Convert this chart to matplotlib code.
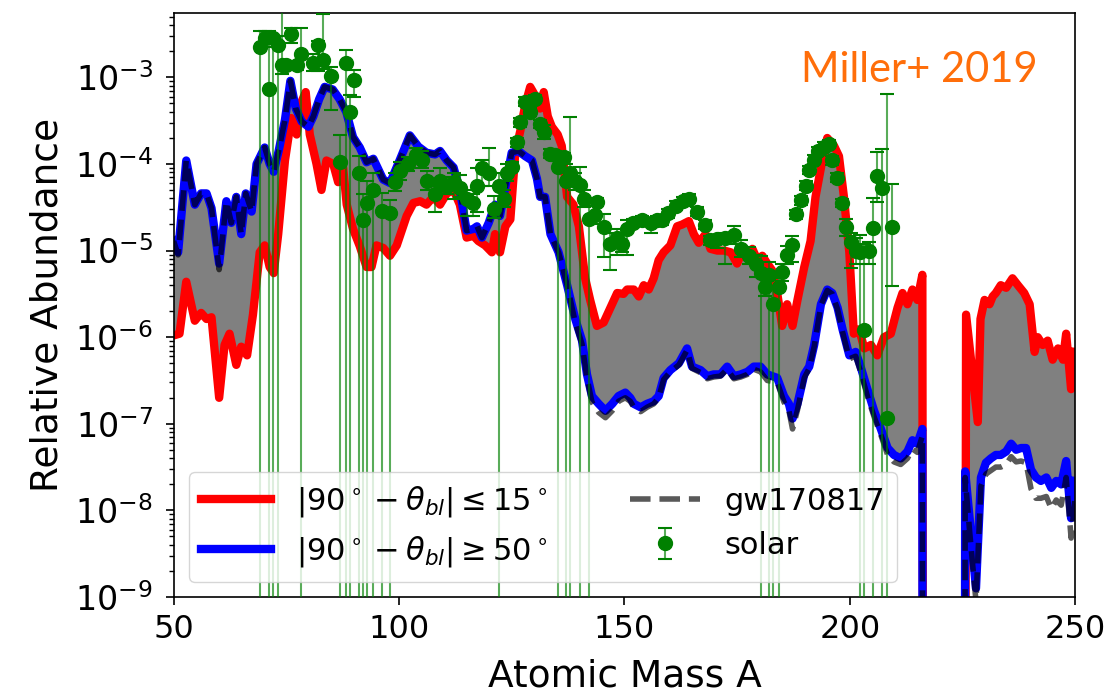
import numpy as np
import matplotlib.pyplot as plt

# abundances are stored as log10(Y); -30 marks the empty mass range (drops to zero)

# |90 - theta_bl| <= 15 deg
red_A = [50.0, 51.3, 52.8, 54.7, 56.1, 57.3, 58.4, 60.1, 61.3, 62.4,
         63.9, 65.0, 66.3, 67.6, 69.1, 70.2, 71.3, 72.2, 73.2, 74.7,
         76.1, 77.3, 78.4, 79.3, 80.2, 81.7, 82.8, 83.9, 85.4, 86.5,
         87.6, 88.4, 89.8, 91.3, 92.8, 93.9, 95.0, 96.5, 98.0, 99.5,
         101.7, 103.2, 104.7, 106.1, 107.6, 109.1, 110.6, 112.1, 113.5, 115.0,
         116.5, 117.6, 119.1, 120.6, 121.3, 122.4, 123.6, 124.7, 125.8, 126.9,
         128.0, 129.1, 130.2, 131.3, 132.1, 133.0, 133.9, 135.2, 136.1, 137.3,
         138.7, 139.9, 141.3, 142.4, 143.9, 145.4, 146.9, 148.4, 149.8, 150.6,
         152.1, 153.2, 154.3, 155.4, 156.5, 157.6, 158.7, 160.2, 161.7, 162.8,
         164.3, 165.4, 166.5, 168.0, 169.1, 170.6, 172.1, 173.6, 175.0, 176.1,
         177.3, 178.4, 179.5, 180.6, 181.7, 182.8, 183.9, 185.0, 186.1, 187.3,
         188.4, 189.9, 191.3, 192.4, 193.9, 195.0, 196.5, 197.6, 198.7, 199.9,
         200.9, 202.1, 203.2, 204.7, 206.1, 207.6, 209.1, 210.6, 211.7, 212.8,
         213.9, 215.0, 216.1, 216.7, 225.0, 225.8, 228.4, 229.0, 229.9, 231.0,
         231.7, 232.4, 233.5, 234.7, 236.1, 237.3, 238.7, 239.9, 241.0, 241.7,
         242.8, 243.9, 245.0, 246.2, 247.3, 248.0, 249.1, 250.0]
red_log = [-5.98, -5.96, -5.36, -5.81, -5.72, -5.79, -5.77, -6.70, -6.09, -5.96,
           -6.32, -6.11, -6.21, -5.74, -5.02, -4.94, -5.19, -5.26, -4.81, -3.96,
           -3.47, -3.66, -3.28, -3.17, -3.66, -4.00, -4.30, -3.96, -4.00, -4.21,
           -4.04, -4.47, -4.75, -4.95, -5.19, -5.19, -4.94, -4.97, -5.06, -4.94,
           -4.60, -4.45, -4.43, -4.47, -4.38, -4.47, -4.34, -4.30, -4.47, -4.85,
           -4.83, -4.89, -4.94, -5.02, -4.81, -5.02, -4.72, -4.64, -3.87, -3.62,
           -3.32, -3.11, -3.21, -3.36, -3.17, -3.45, -3.57, -3.66, -3.79, -4.38,
           -4.47, -4.72, -5.32, -5.57, -5.87, -5.83, -5.66, -5.49, -5.50, -5.45,
           -5.45, -5.53, -5.40, -5.45, -5.32, -5.11, -5.02, -4.94, -4.72, -4.70,
           -4.66, -4.81, -4.91, -4.81, -4.98, -5.00, -5.00, -5.02, -5.15, -5.02,
           -5.09, -4.98, -5.11, -5.06, -5.15, -5.23, -5.49, -5.87, -5.62, -5.87,
           -5.57, -5.19, -4.89, -4.38, -3.96, -3.70, -3.79, -3.91, -4.38, -5.02,
           -5.96, -5.91, -6.13, -6.09, -6.21, -6.00, -5.96, -5.66, -5.49, -5.62,
           -5.45, -5.57, -5.28, -30, -30, -5.74, -6.98, -5.79, -5.57, -5.62,
           -5.53, -5.49, -5.40, -5.43, -5.32, -5.40, -5.49, -5.62, -6.17, -6.00,
           -6.09, -6.04, -6.26, -6.13, -6.26, -5.96, -6.60, -6.17]

# |90 - theta_bl| >= 50 deg, and gw170817 on the same mass grid
blue_A = [50.0, 51.0, 52.8, 54.7, 56.1, 57.3, 58.4, 60.1, 61.7, 62.8,
          63.9, 65.0, 66.0, 67.3, 68.4, 70.2, 71.3, 72.2, 73.3, 74.7,
          75.9, 77.1, 78.4, 79.9, 81.0, 82.3, 83.5, 85.3, 86.8, 88.3,
          89.8, 91.3, 92.8, 94.3, 96.5, 98.0, 100.2, 102.4, 104.3, 106.1,
          108.0, 109.1, 110.6, 112.1, 113.5, 115.0, 116.5, 117.3, 118.4, 119.9,
          121.3, 122.4, 123.6, 125.0, 126.5, 128.0, 129.5, 130.6, 131.3, 132.4,
          133.6, 135.4, 137.3, 139.1, 140.6, 141.7, 142.8, 144.3, 145.8, 147.3,
          148.7, 150.2, 151.3, 152.1, 153.6, 155.0, 156.5, 157.6, 158.7, 160.2,
          162.1, 163.9, 165.0, 166.9, 168.4, 169.8, 171.3, 172.8, 174.3, 175.8,
          177.3, 178.7, 180.2, 181.7, 183.9, 185.4, 186.5, 187.3, 188.4, 189.9,
          191.0, 192.1, 193.6, 195.0, 196.1, 197.3, 198.4, 199.9, 201.3, 202.4,
          203.9, 205.4, 206.9, 208.4, 209.8, 211.3, 212.8, 213.9, 215.0, 216.1,
          216.4, 225.2, 225.6, 226.6, 228.0, 229.1, 230.2, 231.3, 232.4, 233.5,
          234.7, 235.8, 236.9, 238.0, 239.1, 240.2, 241.3, 242.4, 243.6, 244.7,
          245.8, 246.9, 248.0, 249.1, 250.0]
blue_log = [-4.89, -5.02, -3.96, -4.47, -4.34, -4.34, -4.51, -5.15, -4.43, -4.68,
            -4.38, -4.81, -4.34, -4.55, -4.00, -3.81, -4.00, -4.09, -3.85, -3.49,
            -3.04, -3.36, -3.51, -3.57, -3.45, -3.25, -3.11, -3.14, -3.25, -3.40,
            -3.69, -3.81, -3.98, -3.94, -4.18, -4.22, -3.95, -3.67, -3.80, -3.87,
            -3.89, -3.85, -3.96, -4.04, -4.30, -4.77, -4.75, -4.72, -4.85, -4.68,
            -4.47, -4.60, -4.26, -3.87, -3.85, -3.91, -3.96, -4.17, -4.38, -4.38,
            -4.81, -5.02, -5.40, -5.79, -6.04, -6.43, -6.68, -6.77, -6.85, -6.77,
            -6.68, -6.64, -6.70, -6.77, -6.81, -6.77, -6.74, -6.68, -6.47, -6.38,
            -6.30, -6.13, -6.34, -6.38, -6.45, -6.43, -6.43, -6.34, -6.45, -6.43,
            -6.40, -6.34, -6.34, -6.43, -6.47, -6.68, -6.77, -6.94, -6.77, -6.43,
            -6.34, -6.09, -5.62, -5.45, -5.49, -5.66, -5.91, -6.21, -6.17, -6.34,
            -6.60, -6.85, -7.06, -7.28, -7.36, -7.40, -7.32, -7.19, -7.23, -7.06,
            -30, -30, -7.55, -8.10, -8.90, -7.62, -7.45, -7.40, -7.36, -7.36,
            -7.32, -7.23, -7.30, -7.28, -7.28, -7.53, -7.62, -7.66, -7.62, -7.74,
            -7.66, -7.70, -7.43, -8.09, -7.66]
gw_log = [-4.89, -5.05, -3.96, -4.47, -4.34, -4.34, -4.51, -5.22, -4.43, -4.68,
          -4.38, -4.81, -4.34, -4.55, -4.00, -3.81, -4.00, -4.09, -3.85, -3.49,
          -3.04, -3.36, -3.51, -3.57, -3.45, -3.25, -3.11, -3.14, -3.25, -3.40,
          -3.69, -3.81, -3.98, -3.94, -4.18, -4.22, -3.95, -3.67, -3.80, -3.87,
          -3.89, -3.85, -3.96, -4.04, -4.30, -4.77, -4.75, -4.72, -4.85, -4.68,
          -4.47, -4.60, -4.26, -3.87, -3.85, -3.91, -3.96, -4.17, -4.38, -4.38,
          -4.81, -5.02, -5.40, -5.83, -6.08, -6.47, -6.75, -6.87, -6.93, -6.85,
          -6.74, -6.70, -6.74, -6.81, -6.86, -6.81, -6.77, -6.70, -6.49, -6.40,
          -6.32, -6.15, -6.36, -6.41, -6.48, -6.46, -6.45, -6.37, -6.48, -6.46,
          -6.43, -6.37, -6.40, -6.50, -6.52, -6.75, -6.85, -7.06, -6.84, -6.47,
          -6.36, -6.11, -5.63, -5.46, -5.50, -5.68, -5.94, -6.25, -6.22, -6.40,
          -6.68, -6.92, -7.13, -7.36, -7.44, -7.47, -7.40, -7.29, -7.33, -7.14,
          -30, -30, -7.62, -8.25, -9.05, -7.72, -7.58, -7.54, -7.50, -7.50,
          -7.47, -7.38, -7.44, -7.43, -7.45, -7.75, -7.86, -7.86, -7.84, -7.98,
          -7.88, -7.94, -7.62, -8.32, -7.85]

# solar r-process residuals: log10 value, upper / lower error in dex (None -> down to zero)
solar_A = [69.1, 70.2, 71.1, 72.1, 73.2, 74.1, 75.0, 76.0, 77.3, 78.2,
           81.0, 82.1, 83.2, 85.0, 87.0, 88.2, 89.1, 90.1, 91.1, 92.1,
           93.0, 94.2, 96.2, 98.1, 99.1, 100.3, 102.1, 103.7, 105.0, 106.1,
           108.0, 109.1, 110.6, 112.1, 113.5, 115.0, 116.5, 117.3, 118.3, 119.9,
           121.0, 122.2, 123.2, 123.9, 125.0, 126.1, 126.9, 127.9, 129.1, 130.2,
           131.2, 132.2, 133.6, 134.5, 135.2, 136.5, 137.1, 138.0, 139.0, 140.1,
           141.1, 142.1, 143.4, 144.0, 145.4, 146.9, 148.4, 149.5, 150.5, 152.0,
           153.9, 155.8, 157.3, 158.4, 159.7, 161.5, 163.0, 164.3, 166.1, 167.8,
           169.1, 170.6, 172.4, 174.3, 175.8, 177.6, 179.1, 180.2, 181.3, 182.1,
           183.0, 184.2, 185.0, 186.1, 187.1, 188.1, 189.1, 190.2, 191.0, 192.0,
           193.0, 194.2, 195.3, 196.1, 197.2, 198.2, 199.1, 200.2, 201.3, 202.3,
           203.2, 204.3, 205.2, 206.1, 207.1, 208.2, 209.3]
solar_log = [-2.65, -2.55, -3.14, -2.55, -2.63, -2.86, -2.86, -2.50, -2.86, -2.73,
             -2.83, -2.63, -2.80, -2.98, -3.98, -2.83, -3.40, -3.03, -4.11, -4.65,
             -4.45, -4.30, -4.54, -4.57, -4.21, -4.08, -4.00, -3.90, -3.95, -4.20,
             -4.35, -4.20, -4.25, -4.21, -4.28, -4.40, -4.45, -4.25, -4.05, -4.11,
             -4.52, -4.25, -4.40, -4.10, -4.03, -3.75, -3.52, -3.28, -3.40, -3.25,
             -3.54, -3.63, -3.88, -3.90, -4.04, -3.92, -4.20, -4.11, -4.20, -4.24,
             -4.40, -4.64, -4.59, -4.44, -4.73, -4.92, -4.85, -4.92, -4.75, -4.68,
             -4.65, -4.68, -4.65, -4.65, -4.57, -4.48, -4.43, -4.40, -4.55, -4.70,
             -4.88, -4.87, -4.85, -4.82, -4.98, -5.06, -5.15, -5.26, -5.42, -5.28,
             -5.62, -5.42, -5.25, -5.05, -4.93, -4.58, -4.42, -4.25, -4.07, -3.95,
             -3.85, -3.80, -3.77, -3.96, -4.16, -4.45, -4.73, -4.90, -5.00, -5.02,
             -5.92, -5.00, -4.74, -4.14, -4.28, -6.93, -4.73]
solar_up = [0.19, 0.09, 0.68, 0.03, 0.11, 0.75, 0.05, 0.07, 0.05, 0.30,
            0.10, 0.05, 0.53, 0.10, 0.31, 0.15, 0.20, 0.12, 0.20, 0.30,
            0.25, 0.20, 0.20, 0.15, 0.10, 0.10, 0.08, 0.08, 0.10, 0.12,
            0.10, 0.15, 0.10, 0.10, 0.15, 0.10, 0.10, 0.20, 0.10, 0.30,
            0.15, 0.15, 0.10, 0.10, 0.05, 0.05, 0.05, 0.05, 0.05, 0.05,
            0.05, 0.08, 0.05, 0.05, 0.10, 0.05, 0.20, 0.65, 0.10, 0.20,
            0.10, 0.20, 0.10, 0.05, 0.15, 0.12, 0.10, 0.10, 0.10, 0.05,
            0.05, 0.05, 0.05, 0.05, 0.05, 0.05, 0.05, 0.05, 0.05, 0.05,
            0.05, 0.05, 0.05, 0.10, 0.10, 0.10, 0.10, 0.20, 0.10, 0.15,
            0.20, 0.10, 0.10, 0.10, 0.10, 0.05, 0.05, 0.05, 0.05, 0.05,
            0.05, 0.05, 0.05, 0.05, 0.05, 0.05, 0.10, 0.10, 0.15, 0.20,
            1.00, 0.10, 0.35, 0.28, 0.45, 3.74, 0.50]
solar_down = [None, 0.10, None, None, None, 0.10, 0.05, 0.10, 0.05, None,
              0.10, 0.30, 0.10, 0.40, None, None, None, 0.20, None, None,
              None, None, None, None, 0.10, 0.10, 0.08, 0.08, 0.10, 0.10,
              0.20, 0.15, 0.10, 0.20, 0.10, 0.20, 0.15, 0.30, 0.20, 0.15,
              0.10, None, 0.10, 0.10, 0.05, 0.05, 0.05, 0.05, 0.05, 0.05,
              0.05, 0.08, 0.05, 0.05, None, 0.05, None, None, 0.10, None,
              0.10, None, 0.10, 0.05, 0.35, 0.30, 0.20, 0.10, 0.30, 0.05,
              0.05, 0.12, 0.05, 0.05, 0.05, 0.05, 0.05, 0.05, 0.05, 0.05,
              0.05, 0.10, 0.30, 0.10, 0.10, 0.10, 0.15, None, 0.10, None,
              None, None, 0.10, 0.10, 0.20, 0.05, 0.05, 0.05, 0.05, 0.05,
              0.05, 0.05, 0.05, 0.05, 0.05, 0.05, 0.10, 0.30, 0.15, None,
              None, 0.15, None, 0.30, None, None, 0.68]

rA, rL = np.array(red_A), np.array(red_log)
bA, bL = np.array(blue_A), np.array(blue_log)
gL = np.array(gw_log)

sA = np.array(solar_A)
sL = np.array(solar_log)
sv = 10.0 ** sL
s_hi = 10.0 ** (sL + np.array(solar_up)) - sv
s_lo = np.array([v if d is None else v - 10.0 ** (l - d)
                 for v, l, d in zip(sv, sL, solar_down)])

fig, ax = plt.subplots(figsize=(11.13, 6.97), dpi=100)
fig.subplots_adjust(left=0.156, right=0.966, bottom=0.1435, top=0.981)

# grey band between the two angle cuts, drawn in two pieces around the empty masses
for lo, hi in [(0, 220), (220, 300)]:
    mr = (rA > lo) & (rA < hi) & (rL > -20)
    mb = (bA > lo) & (bA < hi) & (bL > -20)
    xs = np.concatenate([rA[mr], bA[mb][::-1]])
    ys = np.concatenate([10.0 ** rL[mr], 10.0 ** bL[mb][::-1]])
    ax.fill(xs, ys, color='gray', lw=0, zorder=1)

l1, = ax.plot(rA, 10.0 ** rL, color='red', lw=6, zorder=2,
              label=r'$|90^\circ - \theta_{bl}| \leq 15^\circ$')
l2, = ax.plot(bA, 10.0 ** bL, color='blue', lw=6, zorder=2,
              label=r'$|90^\circ - \theta_{bl}| \geq 50^\circ$')
l3, = ax.plot(bA, 10.0 ** gL, 'k--', lw=4, alpha=0.65, zorder=3, label='gw170817')

eb = ax.errorbar(sA, sv, yerr=[s_lo, s_hi], fmt='o', color='green', ms=10,
                 elinewidth=1.5, capsize=5, capthick=1.5, zorder=4, label='solar')
eb[2][0].set_alpha(0.65)

ax.set_yscale('log')
ax.set_xlim(50, 250)
ax.set_ylim(1e-9, 5.5e-3)
ax.set_xticks([50, 100, 150, 200, 250])
ax.tick_params(which='major', length=6, width=1.2)
ax.tick_params(axis='x', which='major', labelsize=23, pad=6)
ax.tick_params(axis='y', which='major', labelsize=24, pad=9)
ax.tick_params(which='minor', length=3.5, width=1)
for sp in ax.spines.values():
    sp.set_linewidth(1.2)

ax.set_xlabel('Atomic Mass A', fontsize=27, labelpad=10)
ax.set_ylabel('Relative Abundance', fontsize=27, labelpad=7)

ax.legend(handles=[l1, l2, l3, eb], ncol=2, loc='lower left', fontsize=22,
          handlelength=2.3, columnspacing=2.7, framealpha=0.8)

ax.text(0.958, 0.882, 'Miller+ 2019', transform=ax.transAxes, ha='right',
        va='baseline', color='#ff6e0a', fontsize=30, family='Lato')

plt.savefig('out.png', dpi=100)
